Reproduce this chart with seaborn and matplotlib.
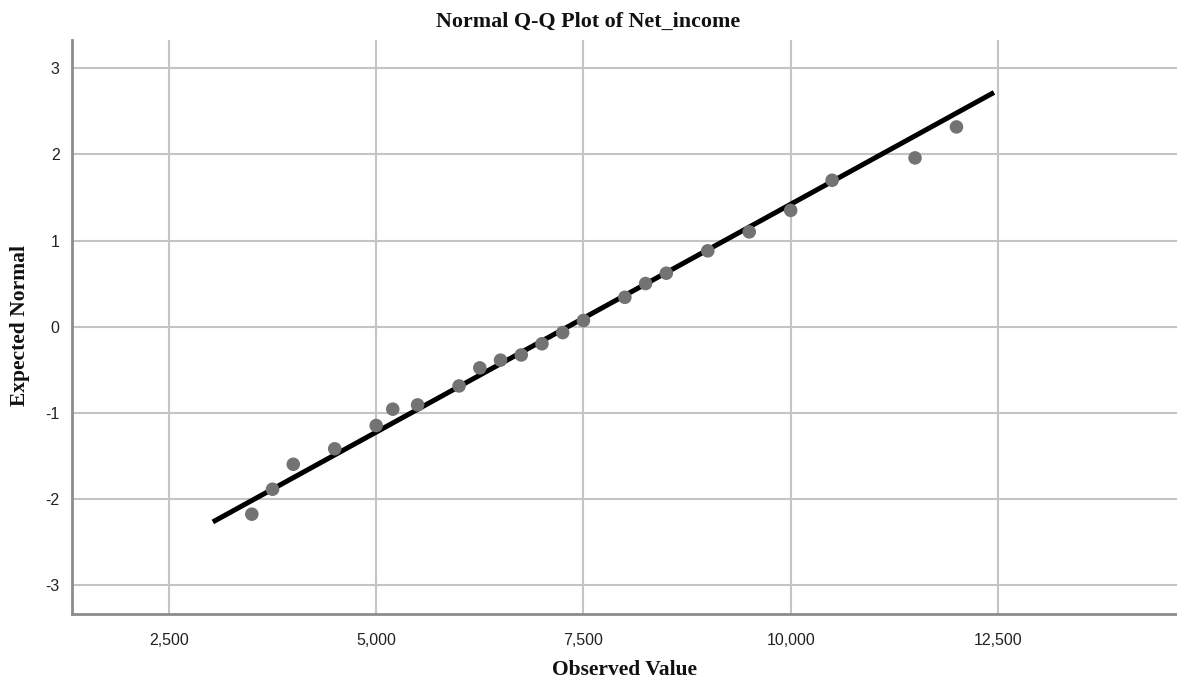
import numpy as np
import pandas as pd
import matplotlib
matplotlib.use("Agg")
import matplotlib.pyplot as plt
import seaborn as sns
from matplotlib.ticker import FuncFormatter, FixedLocator

# Observed net income values and their expected normal scores
observed = [3500, 3750, 4000, 4500, 5000, 5200, 5500, 6000, 6250, 6500, 6750,
            7000, 7250, 7500, 8000, 8250, 8500, 9000, 9500, 10000, 10500,
            11500, 12000]
expected = [-2.18, -1.89, -1.60, -1.42, -1.15, -0.96, -0.91, -0.69, -0.48,
            -0.39, -0.33, -0.20, -0.07, 0.07, 0.34, 0.50, 0.62, 0.88, 1.10,
            1.35, 1.70, 1.96, 2.32]

# Reference line: expected = (x - mean) / sd
line_mean = 7316
line_sd = 1888
line_x = [3030, 12452]

x_ticks = [2500, 5000, 7500, 10000, 12500]
y_ticks = [-3, -2, -1, 0, 1, 2, 3]

sns.set_style("white")
plt.rcParams["font.family"] = ["Liberation Sans", "DejaVu Sans"]

W, H = 1177, 684
fig = plt.figure(figsize=(W / 100, H / 100), dpi=100)
ax = fig.add_axes([72 / W, 1 - 614 / H, 1 - 72 / W, (614 - 40) / H])

pts = pd.DataFrame({"Observed Value": observed, "Expected Normal": expected})
ref = pd.DataFrame({"x": line_x})
ref["y"] = (ref["x"] - line_mean) / line_sd

ax.set_axisbelow(True)
ax.grid(True, color="#c4c4c4", linewidth=1.5)

sns.lineplot(data=ref, x="x", y="y", ax=ax, color="black", linewidth=3.6,
             zorder=3, solid_capstyle="butt")
sns.scatterplot(data=pts, x="Observed Value", y="Expected Normal", ax=ax,
                color="#737373", s=95, edgecolor="none", zorder=4)

ax.set_xlim(1331, 14660)
ax.set_ylim(-3.34, 3.33)
ax.xaxis.set_major_locator(FixedLocator(x_ticks))
ax.yaxis.set_major_locator(FixedLocator(y_ticks))
ax.xaxis.set_major_formatter(FuncFormatter(lambda v, p: f"{int(v):,}"))
ax.yaxis.set_major_formatter(FuncFormatter(lambda v, p: f"{int(v)}"))
ax.tick_params(axis="both", length=0, labelsize=11.5, colors="#222222")
ax.tick_params(axis="x", pad=14)
ax.tick_params(axis="y", pad=9)

for side in ["top", "right"]:
    ax.spines[side].set_visible(False)
for side in ["left", "bottom"]:
    ax.spines[side].set_color("#8c8c8c")
    ax.spines[side].set_linewidth(2)

serif = dict(family="Liberation Serif", fontweight="bold", color="#111111")
ax.set_xlabel("Observed Value", fontsize=15.5, va="center", **serif)
ax.set_ylabel("Expected Normal", fontsize=15.5, va="center", **serif)
ax_w, ax_h = W - 72, 614 - 40
ax.xaxis.set_label_coords((625 - 72) / ax_w, (614 - 670) / ax_h)
ax.yaxis.set_label_coords((20 - 72) / ax_w, (614 - 326) / ax_h)
fig.text(588 / W, 1 - 22 / H, "Normal Q-Q Plot of Net_income",
         ha="center", va="center", fontsize=15.8, **serif)

fig.savefig("out.png", dpi=100)
